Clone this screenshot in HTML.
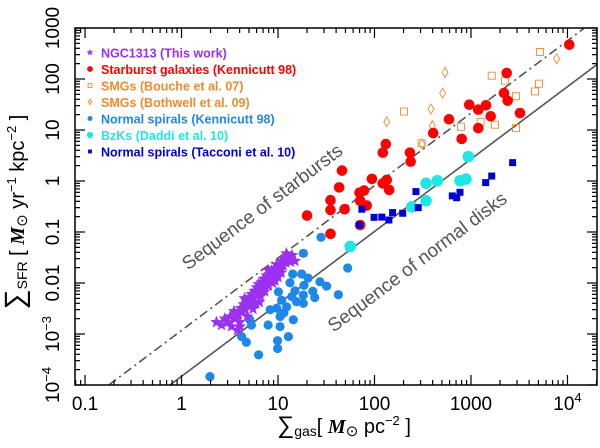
<!DOCTYPE html>
<html><head><meta charset="utf-8"><style>
html,body{margin:0;padding:0;background:#fff;overflow:hidden;}
svg{display:block;font-family:"Liberation Sans",sans-serif;}
</style></head><body>
<svg id="chart" width="600" height="448" viewBox="0 0 600 448" xmlns="http://www.w3.org/2000/svg">
<defs><clipPath id="plotclip"><rect x="75" y="28" width="522" height="357"/></clipPath></defs>
<g id="marks" clip-path="url(#plotclip)"></g>
<rect x="75" y="28" width="522" height="357" fill="none" stroke="#000" stroke-width="1.5"/>
<g id="axes"></g>
<text x="266" y="212" font-size="19" fill="#555" text-anchor="middle" transform="rotate(-37 266 212)">Sequence of starbursts</text>
<text x="421" y="267" font-size="19" fill="#555" text-anchor="middle" transform="rotate(-37 421 267)">Sequence of normal disks</text>
<g id="legend"></g>
<text x="344" y="433" font-size="20" text-anchor="middle"><tspan font-size="24">∑</tspan><tspan font-size="14" dy="3">gas</tspan><tspan dy="-3">[ </tspan><tspan font-style="italic" font-family="Liberation Serif" font-weight="bold">M</tspan><tspan font-size="15" dy="3">⊙</tspan><tspan dy="-3"> pc</tspan><tspan font-size="13" dy="-8">−2</tspan><tspan dy="8"> ]</tspan></text>
<text x="0" y="0" font-size="20" text-anchor="middle" transform="translate(24 212) rotate(-90)"><tspan font-size="28">∑</tspan><tspan font-size="14" dy="3">SFR</tspan><tspan dy="-3"> [ </tspan><tspan font-style="italic" font-family="Liberation Serif" font-weight="bold">M</tspan><tspan font-size="15" dy="3">⊙</tspan><tspan dy="-3"> yr</tspan><tspan font-size="13" dy="-8">−1</tspan><tspan dy="8"> kpc</tspan><tspan font-size="13" dy="-8">−2</tspan><tspan dy="8"> ]</tspan></text>
</svg>
<script>
// ---- data ----
const starburstX=[10440,2344,2198,2400,3220,960,1190,1430,1600,592,1190,406,801,131,122,233,237,46,94,134,122,43,142,78,70,71,83,49,35,35,71,35,20];
const starburstY=[471,131,53,37.6,21.5,31.3,25,30.5,18.6,16.2,10.9,8.7,6.7,5.3,3.6,3.6,2.4,1.6,1.1,1.05,0.9,0.75,0.67,0.65,0.59,0.41,0.33,0.28,0.42,0.27,0.137,0.092,0.21];
const boucheX=[5190,1640,2250,5070,4610,2930,202,1260,1774,787,2930,308];
const boucheY=[338,116,93,81,57,46,23,14.4,12.7,11.6,10.9,5.5];
const bothwellX=[538,7730,509,385,134,397,311];
const bothwellY=[135,250,53,25.8,14.4,12.1,5.3];
const daddiX=[938,342,448,769,887,342,243,56];
const daddiY=[3.0,0.9,1.01,1.01,1.09,0.41,0.31,0.052];
const tacconiX=[2700,1640,1420,769,640,711,269,284,74,154,196,99,119,141,70];
const tacconiY=[2.29,1.25,0.93,0.60,0.51,0.47,0.62,0.30,0.28,0.24,0.233,0.194,0.196,0.172,0.137];
const spiralX=[27.9,18.3,52.7,14.2,17.6,27.2,31.9,13.3,18.6,22.9,42.2,15,10.1,13.9,18.3,15.6,18.3,10.9,12.3,9.7,8.3,10.5,14.4,7.9,10.5,5.1,5.3,12.8,4.2,4.7,9.9,9.9,6.3,1.97,20.5,24,11.5];
const spiralY=[0.0787,0.0382,0.0197,0.015,0.015,0.0106,0.0087,0.0101,0.009,0.0069,0.0059,0.007,0.0067,0.0054,0.0058,0.0043,0.004,0.0046,0.0034,0.0032,0.003,0.0022,0.0019,0.0015,0.0014,0.0019,0.0015,0.00089,0.00089,0.00069,0.00074,0.00052,0.00039,0.000146,0.0125,0.0052,0.0026];
const ngcX=[2.3,2.6,2.8,3.0,3.2,3.3,3.6,3.5,3.9,4.0,4.1,4.3,4.4,4.6,4.7,4.8,5.0,5.1,5.3,5.4,5.6,5.7,5.9,6.0,6.2,6.3,6.5,6.6,6.8,7.0,7.1,7.3,7.5,7.6,7.8,8.0,8.2,8.4,8.6,8.8,9.0,9.2,9.5,9.7,10.0,10.3,10.6,10.9,11.3,11.6,12.0,12.5,13.0,13.5,12.2,5.5,4.5,7.9,6.4,3.8,9.3,10.8,15,14,4.04];
const ngcY=[0.0017,0.0015,0.002,0.0017,0.0022,0.0014,0.002,0.0028,0.0024,0.0017,0.0032,0.0027,0.0038,0.003,0.0045,0.0022,0.0052,0.0036,0.006,0.0043,0.005,0.007,0.0039,0.0082,0.0062,0.0095,0.0072,0.0055,0.0105,0.0085,0.012,0.0068,0.0098,0.014,0.0112,0.0088,0.015,0.0128,0.0175,0.01,0.014,0.0195,0.016,0.023,0.013,0.021,0.018,0.027,0.022,0.03,0.025,0.033,0.029,0.026,0.038,0.0031,0.005,0.018,0.0042,0.0012,0.011,0.016,0.027,0.035,0.0014];
// fit lines: log SFR = slope*log gas + intercept
const lineSlopes=[1.42,1.42];
const lineIntercepts=[-3.83,-2.93];
const xTickVals=[0.1,1,10,100,1000,10000];
const xTickLabels=["0.1","1","10","100","1000","10^4"];
const yTickVals=[1e-4,1e-3,0.01,0.1,1,10,100,1000];
const yTickLabels=["10^-4","10^-3","0.01","0.1","1","10","100","1000"];
const legendLabels=["NGC1313 (This work)","Starburst galaxies (Kennicutt 98)","SMGs (Bouche et al. 07)","SMGs (Bothwell et al. 09)","Normal spirals (Kennicutt 98)","BzKs (Daddi et al. 10)","Normal spirals (Tacconi et al. 10)"];

const NS="http://www.w3.org/2000/svg";
const L=75,R=597,T=28,B=385;
const XL=-1.104,XR=4.306,YB=-4,YT=3;
function xs(v){return L+(Math.log10(v)-XL)/(XR-XL)*(R-L);}
function ys(v){return B-(Math.log10(v)-YB)/(YT-YB)*(B-T);}
function mk(tag,attrs,parent){const e=document.createElementNS(NS,tag);for(const k in attrs)e.setAttribute(k,attrs[k]);parent.appendChild(e);return e;}
const marks=document.getElementById('marks'),axes=document.getElementById('axes'),legend=document.getElementById('legend');

for(let i=0;i<lineSlopes.length;i++){
  const m=lineSlopes[i],c=lineIntercepts[i];
  // clip the line to the plot domain in log space
  const lx1=Math.max(XL,(YB-c)/m), lx2=Math.min(XR,(YT-c)/m);
  const x1=Math.pow(10,lx1), x2=Math.pow(10,lx2);
  const l=mk('line',{x1:xs(x1),y1:ys(Math.pow(10,m*lx1+c)),x2:xs(x2),y2:ys(Math.pow(10,m*lx2+c)),stroke:'#555','stroke-width':1.6},marks);
  if(i===1)l.setAttribute('stroke-dasharray','9,4,2,4');
  
  
}
function starPath(cx,cy,r){let d='';for(let k=0;k<10;k++){const a=-Math.PI/2+k*Math.PI/5;const rr=k%2?r*0.42:r;d+=(k?'L':'M')+(cx+rr*Math.cos(a)).toFixed(2)+' '+(cy+rr*Math.sin(a)).toFixed(2);}return d+'Z';}
function drawMarker(type,cx,cy,parent,scale){
  let e;
  if(type==='star'){e=mk('path',{d:starPath(cx,cy,6.5*scale),fill:'#9b30f0'},parent);}
  else if(type==='red'){e=mk('circle',{cx:cx,cy:cy,r:5.3*scale,fill:'#f00'},parent);}
  else if(type==='osq'){e=mk('rect',{x:cx-3.5*scale,y:cy-3.5*scale,width:7*scale,height:7*scale,fill:'none',stroke:'#f08a30','stroke-width':0.9},parent);}
  else if(type==='odia'){e=mk('path',{d:`M${cx} ${cy-5*scale}L${cx+3*scale} ${cy}L${cx} ${cy+5*scale}L${cx-3*scale} ${cy}Z`,fill:'none',stroke:'#f08a30','stroke-width':0.9},parent);}
  else if(type==='blue'){e=mk('circle',{cx:cx,cy:cy,r:4.6*scale,fill:'#1e88e8'},parent);}
  else if(type==='cyan'){e=mk('circle',{cx:cx,cy:cy,r:5.8*scale,fill:'#22e6e6'},parent);}
  else {e=mk('rect',{x:cx-3.5*scale,y:cy-3.5*scale,width:7*scale,height:7*scale,fill:'#0000d0'},parent);}
  return e;
}
const series=[['odia',bothwellX,bothwellY,'bothwell-smg-point'],['osq',boucheX,boucheY,'bouche-smg-point'],['blue',spiralX,spiralY,'kennicutt-spiral-point'],['red',starburstX,starburstY,'starburst-point'],['cyan',daddiX,daddiY,'bzk-point'],['dsq',tacconiX,tacconiY,'tacconi-spiral-point'],['star',ngcX,ngcY,'ngc1313-point']];
for(const s of series){
  for(let i=0;i<s[1].length;i++){
    const e=drawMarker(s[0],xs(s[1][i]),ys(s[2][i]),marks,1);
    
    
  }
}
function tickLine(x1,y1,x2,y2){const t=mk('line',{x1,y1,x2,y2,stroke:'#000','stroke-width':1.2},axes);}
for(let d=-2;d<=4;d++){for(let m=1;m<10;m++){const v=m*Math.pow(10,d);const x=xs(v);if(x<L||x>R)continue;const len=m===1?10:5;tickLine(x,B,x,B-len);tickLine(x,T,x,T+len);}}
for(let d=-4;d<=2;d++){for(let m=1;m<10;m++){const v=m*Math.pow(10,d);const y=ys(v);if(y<T-0.1||y>B+0.1)continue;const len=m===1?10:5;tickLine(L,y,L+len,y);tickLine(R,y,R-len,y);}}
tickLine(L,T,L+10,T);tickLine(R,T,R-10,T);
function addLabel(parent,str,x,y,anchor,rot){
  const t=mk('text',{x:x,y:y,'font-size':19,'text-anchor':anchor},parent);
  if(rot)t.setAttribute('transform',`rotate(-90 ${x} ${y})`);
  const p=str.split('^');
  t.appendChild(document.createTextNode(p[0]));
  if(p[1]){const ts=mk('tspan',{'font-size':13,dy:-8},t);ts.textContent=p[1].replace('-','−');}
  return t;
}
for(let i=0;i<xTickVals.length;i++){
  const t=addLabel(axes,xTickLabels[i],xs(xTickVals[i]),410,'middle',false);
  
  
}
for(let i=0;i<yTickVals.length;i++){
  const y=Math.max(ys(yTickVals[i]),23);
  const t=addLabel(axes,yTickLabels[i],59,y,'middle',true);
  
  
}
const legTypes=['star','red','osq','odia','blue','cyan','dsq'];
const legColors=['#9b30f0','#f00','#f08a30','#f08a30','#1e88e8','#22e6e6','#0000d0'];
for(let i=0;i<legendLabels.length;i++){
  const y=53+i*16.5;
  const g=mk('g',{},legend);
  
  
  drawMarker(legTypes[i],90,y-0.5,g,0.55);
  const t=mk('text',{x:101,y:y+4.5,'font-size':12.5,fill:legColors[i],'font-weight':'bold'},g);
  t.textContent=legendLabels[i];
}
</script>
</body></html>
